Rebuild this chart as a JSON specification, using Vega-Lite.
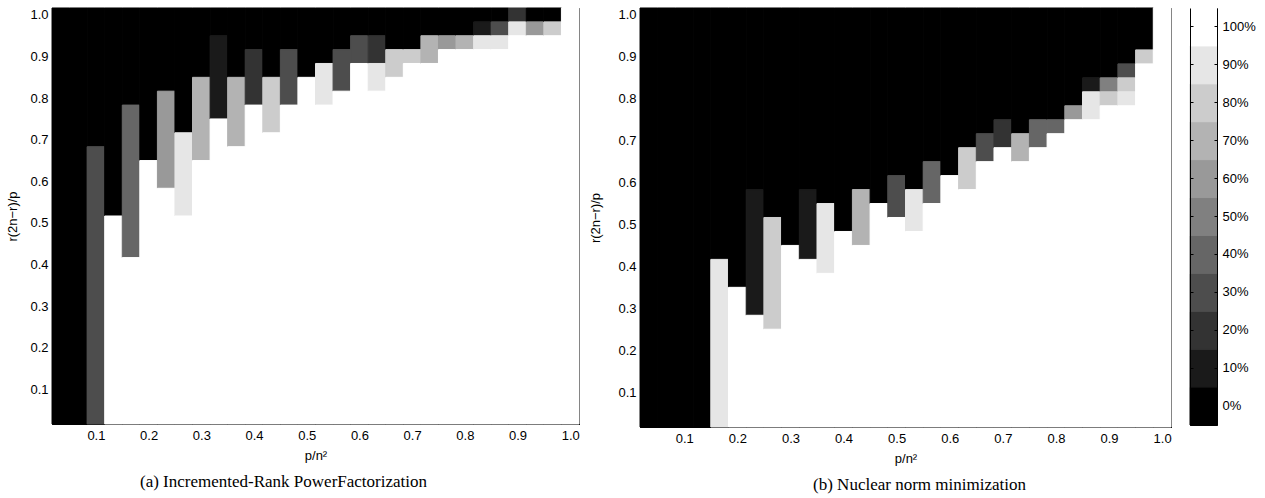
{
"$schema": "https://vega.github.io/schema/vega-lite/v6.json",
"padding": {"left": 6, "top": 6, "right": 5, "bottom": 5},
"background": "white",
"datasets": {
"a": [
{"p0":0.0167,"p1":0.05,"r0":0.0167,"r1":1.0167,"s":0},
{"p0":0.05,"p1":0.0833,"r0":0.0167,"r1":1.0167,"s":0},
{"p0":0.0833,"p1":0.1167,"r0":0.6833,"r1":1.0167,"s":0},
{"p0":0.0833,"p1":0.1167,"r0":0.0167,"r1":0.6833,"s":30},
{"p0":0.1167,"p1":0.15,"r0":0.5167,"r1":1.0167,"s":0},
{"p0":0.1167,"p1":0.15,"r0":0.0167,"r1":0.5167,"s":100},
{"p0":0.15,"p1":0.1833,"r0":0.7833,"r1":1.0167,"s":0},
{"p0":0.15,"p1":0.1833,"r0":0.4167,"r1":0.7833,"s":40},
{"p0":0.15,"p1":0.1833,"r0":0.0167,"r1":0.4167,"s":100},
{"p0":0.1833,"p1":0.2167,"r0":0.65,"r1":1.0167,"s":0},
{"p0":0.1833,"p1":0.2167,"r0":0.0167,"r1":0.65,"s":100},
{"p0":0.2167,"p1":0.25,"r0":0.8167,"r1":1.0167,"s":0},
{"p0":0.2167,"p1":0.25,"r0":0.5833,"r1":0.8167,"s":60},
{"p0":0.2167,"p1":0.25,"r0":0.0167,"r1":0.5833,"s":100},
{"p0":0.25,"p1":0.2833,"r0":0.7167,"r1":1.0167,"s":0},
{"p0":0.25,"p1":0.2833,"r0":0.5167,"r1":0.7167,"s":90},
{"p0":0.25,"p1":0.2833,"r0":0.0167,"r1":0.5167,"s":100},
{"p0":0.2833,"p1":0.3167,"r0":0.85,"r1":1.0167,"s":0},
{"p0":0.2833,"p1":0.3167,"r0":0.65,"r1":0.85,"s":70},
{"p0":0.2833,"p1":0.3167,"r0":0.0167,"r1":0.65,"s":100},
{"p0":0.3167,"p1":0.35,"r0":0.95,"r1":1.0167,"s":0},
{"p0":0.3167,"p1":0.35,"r0":0.75,"r1":0.95,"s":10},
{"p0":0.3167,"p1":0.35,"r0":0.0167,"r1":0.75,"s":100},
{"p0":0.35,"p1":0.3833,"r0":0.85,"r1":1.0167,"s":0},
{"p0":0.35,"p1":0.3833,"r0":0.6833,"r1":0.85,"s":70},
{"p0":0.35,"p1":0.3833,"r0":0.0167,"r1":0.6833,"s":100},
{"p0":0.3833,"p1":0.4167,"r0":0.9167,"r1":1.0167,"s":0},
{"p0":0.3833,"p1":0.4167,"r0":0.7833,"r1":0.9167,"s":20},
{"p0":0.3833,"p1":0.4167,"r0":0.0167,"r1":0.7833,"s":100},
{"p0":0.4167,"p1":0.45,"r0":0.85,"r1":1.0167,"s":0},
{"p0":0.4167,"p1":0.45,"r0":0.7167,"r1":0.85,"s":80},
{"p0":0.4167,"p1":0.45,"r0":0.0167,"r1":0.7167,"s":100},
{"p0":0.45,"p1":0.4833,"r0":0.9167,"r1":1.0167,"s":0},
{"p0":0.45,"p1":0.4833,"r0":0.7833,"r1":0.9167,"s":30},
{"p0":0.45,"p1":0.4833,"r0":0.0167,"r1":0.7833,"s":100},
{"p0":0.4833,"p1":0.5167,"r0":0.85,"r1":1.0167,"s":0},
{"p0":0.4833,"p1":0.5167,"r0":0.0167,"r1":0.85,"s":100},
{"p0":0.5167,"p1":0.55,"r0":0.8833,"r1":1.0167,"s":0},
{"p0":0.5167,"p1":0.55,"r0":0.7833,"r1":0.8833,"s":90},
{"p0":0.5167,"p1":0.55,"r0":0.0167,"r1":0.7833,"s":100},
{"p0":0.55,"p1":0.5833,"r0":0.9167,"r1":1.0167,"s":0},
{"p0":0.55,"p1":0.5833,"r0":0.8167,"r1":0.9167,"s":30},
{"p0":0.55,"p1":0.5833,"r0":0.0167,"r1":0.8167,"s":100},
{"p0":0.5833,"p1":0.6167,"r0":0.95,"r1":1.0167,"s":0},
{"p0":0.5833,"p1":0.6167,"r0":0.8833,"r1":0.95,"s":30},
{"p0":0.5833,"p1":0.6167,"r0":0.0167,"r1":0.8833,"s":100},
{"p0":0.6167,"p1":0.65,"r0":0.95,"r1":1.0167,"s":0},
{"p0":0.6167,"p1":0.65,"r0":0.8833,"r1":0.95,"s":20},
{"p0":0.6167,"p1":0.65,"r0":0.8167,"r1":0.8833,"s":90},
{"p0":0.6167,"p1":0.65,"r0":0.0167,"r1":0.8167,"s":100},
{"p0":0.65,"p1":0.6833,"r0":0.9167,"r1":1.0167,"s":0},
{"p0":0.65,"p1":0.6833,"r0":0.85,"r1":0.9167,"s":80},
{"p0":0.65,"p1":0.6833,"r0":0.0167,"r1":0.85,"s":100},
{"p0":0.6833,"p1":0.7167,"r0":0.9167,"r1":1.0167,"s":0},
{"p0":0.6833,"p1":0.7167,"r0":0.8833,"r1":0.9167,"s":80},
{"p0":0.6833,"p1":0.7167,"r0":0.0167,"r1":0.8833,"s":100},
{"p0":0.7167,"p1":0.75,"r0":0.95,"r1":1.0167,"s":0},
{"p0":0.7167,"p1":0.75,"r0":0.8833,"r1":0.95,"s":70},
{"p0":0.7167,"p1":0.75,"r0":0.0167,"r1":0.8833,"s":100},
{"p0":0.75,"p1":0.7833,"r0":0.95,"r1":1.0167,"s":0},
{"p0":0.75,"p1":0.7833,"r0":0.9167,"r1":0.95,"s":60},
{"p0":0.75,"p1":0.7833,"r0":0.0167,"r1":0.9167,"s":100},
{"p0":0.7833,"p1":0.8167,"r0":0.95,"r1":1.0167,"s":0},
{"p0":0.7833,"p1":0.8167,"r0":0.9167,"r1":0.95,"s":70},
{"p0":0.7833,"p1":0.8167,"r0":0.0167,"r1":0.9167,"s":100},
{"p0":0.8167,"p1":0.85,"r0":0.9833,"r1":1.0167,"s":0},
{"p0":0.8167,"p1":0.85,"r0":0.95,"r1":0.9833,"s":10},
{"p0":0.8167,"p1":0.85,"r0":0.9167,"r1":0.95,"s":90},
{"p0":0.8167,"p1":0.85,"r0":0.0167,"r1":0.9167,"s":100},
{"p0":0.85,"p1":0.8833,"r0":0.9833,"r1":1.0167,"s":0},
{"p0":0.85,"p1":0.8833,"r0":0.95,"r1":0.9833,"s":30},
{"p0":0.85,"p1":0.8833,"r0":0.9167,"r1":0.95,"s":90},
{"p0":0.85,"p1":0.8833,"r0":0.0167,"r1":0.9167,"s":100},
{"p0":0.8833,"p1":0.9167,"r0":0.9833,"r1":1.0167,"s":20},
{"p0":0.8833,"p1":0.9167,"r0":0.95,"r1":0.9833,"s":90},
{"p0":0.8833,"p1":0.9167,"r0":0.0167,"r1":0.95,"s":100},
{"p0":0.9167,"p1":0.95,"r0":0.9833,"r1":1.0167,"s":0},
{"p0":0.9167,"p1":0.95,"r0":0.95,"r1":0.9833,"s":60},
{"p0":0.9167,"p1":0.95,"r0":0.0167,"r1":0.95,"s":100},
{"p0":0.95,"p1":0.9833,"r0":0.9833,"r1":1.0167,"s":0},
{"p0":0.95,"p1":0.9833,"r0":0.95,"r1":0.9833,"s":80},
{"p0":0.95,"p1":0.9833,"r0":0.0167,"r1":0.95,"s":100},
{"p0":0.9833,"p1":1.0167,"r0":0.0167,"r1":1.0167,"s":100}
],
"b": [
{"p0":0.0167,"p1":0.05,"r0":0.0167,"r1":1.0167,"s":0},
{"p0":0.05,"p1":0.0833,"r0":0.0167,"r1":1.0167,"s":0},
{"p0":0.0833,"p1":0.1167,"r0":0.0167,"r1":1.0167,"s":0},
{"p0":0.1167,"p1":0.15,"r0":0.0167,"r1":1.0167,"s":0},
{"p0":0.15,"p1":0.1833,"r0":0.4167,"r1":1.0167,"s":0},
{"p0":0.15,"p1":0.1833,"r0":0.0167,"r1":0.4167,"s":90},
{"p0":0.1833,"p1":0.2167,"r0":0.35,"r1":1.0167,"s":0},
{"p0":0.1833,"p1":0.2167,"r0":0.0167,"r1":0.35,"s":100},
{"p0":0.2167,"p1":0.25,"r0":0.5833,"r1":1.0167,"s":0},
{"p0":0.2167,"p1":0.25,"r0":0.2833,"r1":0.5833,"s":10},
{"p0":0.2167,"p1":0.25,"r0":0.0167,"r1":0.2833,"s":100},
{"p0":0.25,"p1":0.2833,"r0":0.5167,"r1":1.0167,"s":0},
{"p0":0.25,"p1":0.2833,"r0":0.25,"r1":0.5167,"s":80},
{"p0":0.25,"p1":0.2833,"r0":0.0167,"r1":0.25,"s":100},
{"p0":0.2833,"p1":0.3167,"r0":0.45,"r1":1.0167,"s":0},
{"p0":0.2833,"p1":0.3167,"r0":0.0167,"r1":0.45,"s":100},
{"p0":0.3167,"p1":0.35,"r0":0.5833,"r1":1.0167,"s":0},
{"p0":0.3167,"p1":0.35,"r0":0.4167,"r1":0.5833,"s":10},
{"p0":0.3167,"p1":0.35,"r0":0.0167,"r1":0.4167,"s":100},
{"p0":0.35,"p1":0.3833,"r0":0.55,"r1":1.0167,"s":0},
{"p0":0.35,"p1":0.3833,"r0":0.3833,"r1":0.55,"s":90},
{"p0":0.35,"p1":0.3833,"r0":0.0167,"r1":0.3833,"s":100},
{"p0":0.3833,"p1":0.4167,"r0":0.4833,"r1":1.0167,"s":0},
{"p0":0.3833,"p1":0.4167,"r0":0.0167,"r1":0.4833,"s":100},
{"p0":0.4167,"p1":0.45,"r0":0.5833,"r1":1.0167,"s":0},
{"p0":0.4167,"p1":0.45,"r0":0.45,"r1":0.5833,"s":70},
{"p0":0.4167,"p1":0.45,"r0":0.0167,"r1":0.45,"s":100},
{"p0":0.45,"p1":0.4833,"r0":0.55,"r1":1.0167,"s":0},
{"p0":0.45,"p1":0.4833,"r0":0.0167,"r1":0.55,"s":100},
{"p0":0.4833,"p1":0.5167,"r0":0.6167,"r1":1.0167,"s":0},
{"p0":0.4833,"p1":0.5167,"r0":0.5167,"r1":0.6167,"s":30},
{"p0":0.4833,"p1":0.5167,"r0":0.0167,"r1":0.5167,"s":100},
{"p0":0.5167,"p1":0.55,"r0":0.5833,"r1":1.0167,"s":0},
{"p0":0.5167,"p1":0.55,"r0":0.4833,"r1":0.5833,"s":90},
{"p0":0.5167,"p1":0.55,"r0":0.0167,"r1":0.4833,"s":100},
{"p0":0.55,"p1":0.5833,"r0":0.65,"r1":1.0167,"s":0},
{"p0":0.55,"p1":0.5833,"r0":0.55,"r1":0.65,"s":40},
{"p0":0.55,"p1":0.5833,"r0":0.0167,"r1":0.55,"s":100},
{"p0":0.5833,"p1":0.6167,"r0":0.6167,"r1":1.0167,"s":0},
{"p0":0.5833,"p1":0.6167,"r0":0.0167,"r1":0.6167,"s":100},
{"p0":0.6167,"p1":0.65,"r0":0.6833,"r1":1.0167,"s":0},
{"p0":0.6167,"p1":0.65,"r0":0.5833,"r1":0.6833,"s":80},
{"p0":0.6167,"p1":0.65,"r0":0.0167,"r1":0.5833,"s":100},
{"p0":0.65,"p1":0.6833,"r0":0.7167,"r1":1.0167,"s":0},
{"p0":0.65,"p1":0.6833,"r0":0.65,"r1":0.7167,"s":30},
{"p0":0.65,"p1":0.6833,"r0":0.0167,"r1":0.65,"s":100},
{"p0":0.6833,"p1":0.7167,"r0":0.75,"r1":1.0167,"s":0},
{"p0":0.6833,"p1":0.7167,"r0":0.6833,"r1":0.75,"s":20},
{"p0":0.6833,"p1":0.7167,"r0":0.0167,"r1":0.6833,"s":100},
{"p0":0.7167,"p1":0.75,"r0":0.7167,"r1":1.0167,"s":0},
{"p0":0.7167,"p1":0.75,"r0":0.65,"r1":0.7167,"s":70},
{"p0":0.7167,"p1":0.75,"r0":0.0167,"r1":0.65,"s":100},
{"p0":0.75,"p1":0.7833,"r0":0.75,"r1":1.0167,"s":0},
{"p0":0.75,"p1":0.7833,"r0":0.6833,"r1":0.75,"s":40},
{"p0":0.75,"p1":0.7833,"r0":0.0167,"r1":0.6833,"s":100},
{"p0":0.7833,"p1":0.8167,"r0":0.75,"r1":1.0167,"s":0},
{"p0":0.7833,"p1":0.8167,"r0":0.7167,"r1":0.75,"s":40},
{"p0":0.7833,"p1":0.8167,"r0":0.0167,"r1":0.7167,"s":100},
{"p0":0.8167,"p1":0.85,"r0":0.7833,"r1":1.0167,"s":0},
{"p0":0.8167,"p1":0.85,"r0":0.75,"r1":0.7833,"s":60},
{"p0":0.8167,"p1":0.85,"r0":0.0167,"r1":0.75,"s":100},
{"p0":0.85,"p1":0.8833,"r0":0.85,"r1":1.0167,"s":0},
{"p0":0.85,"p1":0.8833,"r0":0.8167,"r1":0.85,"s":10},
{"p0":0.85,"p1":0.8833,"r0":0.75,"r1":0.8167,"s":90},
{"p0":0.85,"p1":0.8833,"r0":0.0167,"r1":0.75,"s":100},
{"p0":0.8833,"p1":0.9167,"r0":0.85,"r1":1.0167,"s":0},
{"p0":0.8833,"p1":0.9167,"r0":0.8167,"r1":0.85,"s":50},
{"p0":0.8833,"p1":0.9167,"r0":0.7833,"r1":0.8167,"s":80},
{"p0":0.8833,"p1":0.9167,"r0":0.0167,"r1":0.7833,"s":100},
{"p0":0.9167,"p1":0.95,"r0":0.8833,"r1":1.0167,"s":0},
{"p0":0.9167,"p1":0.95,"r0":0.85,"r1":0.8833,"s":30},
{"p0":0.9167,"p1":0.95,"r0":0.8167,"r1":0.85,"s":80},
{"p0":0.9167,"p1":0.95,"r0":0.7833,"r1":0.8167,"s":90},
{"p0":0.9167,"p1":0.95,"r0":0.0167,"r1":0.7833,"s":100},
{"p0":0.95,"p1":0.9833,"r0":0.9167,"r1":1.0167,"s":0},
{"p0":0.95,"p1":0.9833,"r0":0.8833,"r1":0.9167,"s":80},
{"p0":0.95,"p1":0.9833,"r0":0.0167,"r1":0.8833,"s":100},
{"p0":0.9833,"p1":1.0167,"r0":0.0167,"r1":1.0167,"s":100}
],
"cb": [{"s":0},{"s":10},{"s":20},{"s":30},{"s":40},{"s":50},{"s":60},{"s":70},{"s":80},{"s":90},{"s":100}]
},
"config": {
"view": {"stroke": "black", "strokeWidth": 1},
"axis": {"grid": false, "domainColor": "black", "domainWidth": 1, "tickColor": "black", "tickWidth": 1, "tickSize": -4, "labelFont": "Liberation Sans", "labelFontSize": 13, "labelColor": "black", "titleFont": "Liberation Sans", "titleFontSize": 13, "titleFontWeight": "normal", "titleColor": "black"},
"title": {"font": "Liberation Serif", "fontSize": 17, "fontWeight": "normal", "color": "black", "anchor": "middle"}
},
"spacing": 8,
"hconcat": [
{
"width": 527, "height": 416,
"data": {"name": "a"},
"title": {"text": "(a) Incremented-Rank PowerFactorization", "orient": "bottom", "offset": 12, "dx": -32},
"layer": [
{"mark": {"type": "rect", "strokeWidth": 1},
"encoding": {
"x": {"field": "p0", "type": "quantitative", "scale": {"domain": [0.016667, 1.016667], "nice": false, "zero": false}, "axis": {"orient": "bottom", "values": [0.1,0.2,0.3,0.4,0.5,0.6,0.7,0.8,0.9,1.0], "format": ".1f", "labelPadding": 9, "title": "p/n²", "titleY": 35, "titleBaseline": "alphabetic"}},
"x2": {"field": "p1"},
"y": {"field": "r0", "type": "quantitative", "scale": {"domain": [0.016667, 1.016667], "nice": false, "zero": false}, "axis": {"orient": "left", "values": [0.1,0.2,0.3,0.4,0.5,0.6,0.7,0.8,0.9,1.0], "format": ".1f", "labelPadding": 8, "title": "r(2n−r)/p", "titlePadding": 10}},
"y2": {"field": "r1"},
"fill": {"field": "s", "type": "quantitative", "scale": {"domain": [0, 100], "range": ["#000000", "#ffffff"], "interpolate": "rgb"}, "legend": null},
"stroke": {"field": "s", "type": "quantitative", "scale": {"domain": [0, 100], "range": ["#000000", "#ffffff"], "interpolate": "rgb"}, "legend": null}
}},
{"mark": {"type": "rect", "opacity": 0},
"encoding": {
"x": {"field": "p0", "type": "quantitative", "axis": {"orient": "top", "values": [0.1,0.2,0.3,0.4,0.5,0.6,0.7,0.8,0.9,1.0], "labels": false, "title": null}},
"x2": {"field": "p1"},
"y": {"field": "r0", "type": "quantitative", "axis": {"orient": "right", "values": [0.1,0.2,0.3,0.4,0.5,0.6,0.7,0.8,0.9,1.0], "labels": false, "title": null}},
"y2": {"field": "r1"}
}}
],
"resolve": {"axis": {"x": "independent", "y": "independent"}}
},
{
"width": 531, "height": 419,
"data": {"name": "b"},
"title": {"text": "(b) Nuclear norm minimization", "orient": "bottom", "offset": 12, "dx": 14},
"layer": [
{"mark": {"type": "rect", "strokeWidth": 1},
"encoding": {
"x": {"field": "p0", "type": "quantitative", "scale": {"domain": [0.016667, 1.016667], "nice": false, "zero": false}, "axis": {"orient": "bottom", "values": [0.1,0.2,0.3,0.4,0.5,0.6,0.7,0.8,0.9,1.0], "format": ".1f", "labelPadding": 9, "title": "p/n²", "titleY": 35, "titleBaseline": "alphabetic"}},
"x2": {"field": "p1"},
"y": {"field": "r0", "type": "quantitative", "scale": {"domain": [0.016667, 1.016667], "nice": false, "zero": false}, "axis": {"orient": "left", "values": [0.1,0.2,0.3,0.4,0.5,0.6,0.7,0.8,0.9,1.0], "format": ".1f", "labelPadding": 8, "title": "r(2n−r)/p", "titlePadding": 15}},
"y2": {"field": "r1"},
"fill": {"field": "s", "type": "quantitative", "scale": {"domain": [0, 100], "range": ["#000000", "#ffffff"], "interpolate": "rgb"}, "legend": null},
"stroke": {"field": "s", "type": "quantitative", "scale": {"domain": [0, 100], "range": ["#000000", "#ffffff"], "interpolate": "rgb"}, "legend": null}
}},
{"mark": {"type": "rect", "opacity": 0},
"encoding": {
"x": {"field": "p0", "type": "quantitative", "axis": {"orient": "top", "values": [0.1,0.2,0.3,0.4,0.5,0.6,0.7,0.8,0.9,1.0], "labels": false, "title": null}},
"x2": {"field": "p1"},
"y": {"field": "r0", "type": "quantitative", "axis": {"orient": "right", "values": [0.1,0.2,0.3,0.4,0.5,0.6,0.7,0.8,0.9,1.0], "labels": false, "title": null}},
"y2": {"field": "r1"}
}}
],
"resolve": {"axis": {"x": "independent", "y": "independent"}}
},
{
"width": 27, "height": 417,
"data": {"name": "cb"},
"layer": [
{"mark": {"type": "rect", "strokeWidth": 1},
"encoding": {
"x": {"datum": 0, "type": "quantitative", "scale": {"domain": [0, 1], "nice": false, "zero": false}, "axis": null},
"x2": {"datum": 1},
"y": {"field": "s", "type": "ordinal", "sort": "descending", "scale": {"paddingInner": 0, "paddingOuter": 0}, "axis": {"orient": "right", "labelExpr": "datum.value + '%'", "tickSize": -3, "labelPadding": 8, "title": null, "labelAngle": 0, "bandPosition": 0.5}},
"fill": {"field": "s", "type": "quantitative", "scale": {"domain": [0, 100], "range": ["#000000", "#ffffff"], "interpolate": "rgb"}, "legend": null},
"stroke": {"field": "s", "type": "quantitative", "scale": {"domain": [0, 100], "range": ["#000000", "#ffffff"], "interpolate": "rgb"}, "legend": null}
}},
{"mark": {"type": "rect", "opacity": 0},
"encoding": {
"x": {"datum": 0, "type": "quantitative", "axis": null},
"x2": {"datum": 1},
"y": {"field": "s", "type": "ordinal", "sort": "descending", "axis": {"orient": "left", "labels": false, "tickSize": -3, "bandPosition": 0.5, "title": " ", "titleFontSize": 6, "titlePadding": 2}}
}}
],
"resolve": {"axis": {"y": "independent"}}
}
]
}
